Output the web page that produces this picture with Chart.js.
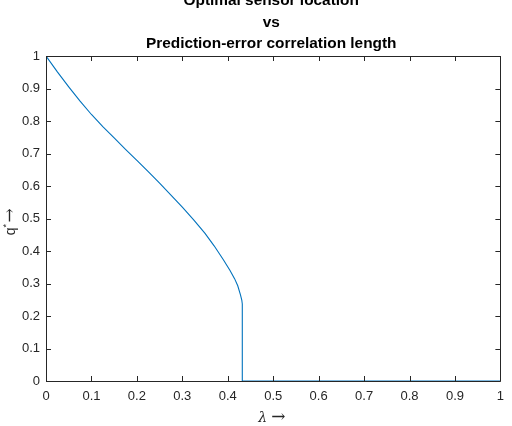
<!DOCTYPE html>
<html lang="en">
<head>
    <meta charset="UTF-8">
    <title>Optimal sensor location vs Prediction-error correlation length</title>
    <script src="https://cdn.jsdelivr.net/npm/chart.js@4.4.1/dist/chart.umd.min.js"></script>
    <style>
        html, body { margin: 0; padding: 0; background: #fff; }
        #wrap { width: 512px; height: 426px; position: relative; }
    </style>
</head>
<body>
    <div id="wrap"><canvas id="qChart"></canvas></div>

    <script>
        // curve
        const lambdaVals = [0, 0.025, 0.05, 0.075, 0.1, 0.125, 0.15, 0.175, 0.2, 0.225, 0.25, 0.275, 0.3, 0.325, 0.35, 0.37, 0.39, 0.405, 0.415, 0.422, 0.428, 0.431, 0.432, 0.432, 1];
        const qVals      = [1, 0.951, 0.905, 0.861, 0.82, 0.783, 0.748, 0.713, 0.679, 0.644, 0.609, 0.572, 0.535, 0.496, 0.454, 0.416, 0.374, 0.34, 0.315, 0.293, 0.265, 0.248, 0.237, 0, 0];

        const xTickLabels = ['0', '0.1', '0.2', '0.3', '0.4', '0.5', '0.6', '0.7', '0.8', '0.9', '1'];
        const yTickLabels = ['0', '0.1', '0.2', '0.3', '0.4', '0.5', '0.6', '0.7', '0.8', '0.9', '1'];
        const titleLines  = ['Optimal sensor location', 'vs', 'Prediction-error correlation length'];

        const axisColor = '#262626';
        const points = lambdaVals.map((x, i) => ({ x: x, y: qVals[i] }));

        // MATLAB style box, inward ticks, title and axis labels
        const matlabAxes = {
            id: 'matlabAxes',
            afterDraw(chart) {
                const ctx = chart.ctx;
                const a = chart.chartArea;
                const xs = chart.scales.x, ys = chart.scales.y;
                const tl = 5;
                ctx.save();
                ctx.strokeStyle = axisColor;
                ctx.lineWidth = 1;
                ctx.beginPath();
                ctx.rect(Math.round(a.left) + 0.5, Math.round(a.top) + 0.5,
                         Math.round(a.right - a.left), Math.round(a.bottom - a.top));
                ctx.stroke();
                ctx.beginPath();
                xTickLabels.forEach((_, i) => {
                    const px = Math.round(xs.getPixelForValue(i / 10)) + 0.5;
                    ctx.moveTo(px, a.bottom); ctx.lineTo(px, a.bottom - tl);
                    ctx.moveTo(px, a.top); ctx.lineTo(px, a.top + tl);
                });
                yTickLabels.forEach((_, i) => {
                    const py = Math.round(ys.getPixelForValue(i / 10)) + 0.5;
                    ctx.moveTo(a.left, py); ctx.lineTo(a.left + tl, py);
                    ctx.moveTo(a.right, py); ctx.lineTo(a.right - tl, py);
                });
                ctx.stroke();

                // title
                ctx.fillStyle = '#000';
                ctx.font = 'bold 15.4px "Liberation Sans", Arial, sans-serif';
                ctx.textAlign = 'center';
                ctx.textBaseline = 'alphabetic';
                const cx = (a.left + a.right) / 2 - 2;
                titleLines.forEach((t, i) => ctx.fillText(t, cx, 5 + i * 21.7));

                // x label
                ctx.fillStyle = axisColor;
                ctx.font = 'italic 14px "DejaVu Serif", serif';
                ctx.textAlign = 'right';
                ctx.fillText('\u03bb', cx - 4, 422);
                ctx.font = '17px "DejaVu Serif", serif';
                ctx.textAlign = 'left';
                ctx.fillText('\u2192', cx + 0, 422);

                // y label, rotated
                ctx.translate(15, (a.top + a.bottom) / 2 + 2);
                ctx.rotate(-Math.PI / 2);
                ctx.textAlign = 'right';
                ctx.font = '14px "Liberation Sans", Arial, sans-serif';
                ctx.fillText('q', -7, 0);
                ctx.font = '9px "Liberation Sans", Arial, sans-serif';
                ctx.textAlign = 'left';
                ctx.fillText('*', -7, -6);
                ctx.font = '17px "DejaVu Serif", serif';
                ctx.fillText('\u2192', -2, 0);
                ctx.restore();
            }
        };

        const tickFont = { family: '"Liberation Sans", Arial, sans-serif', size: 13 };

        new Chart(document.getElementById('qChart'), {
            type: 'scatter',
            data: {
                datasets: [{
                    data: points,
                    showLine: true,
                    borderColor: '#0072BD',
                    borderWidth: 1.1,
                    pointRadius: 0,
                    fill: false,
                    tension: 0
                }]
            },
            options: {
                responsive: true,
                maintainAspectRatio: false,
                animation: false,
                layout: { padding: { top: 56, right: 10, left: 0, bottom: 0 } },
                plugins: {
                    legend: { display: false },
                    tooltip: { enabled: false },
                    title: { display: false }
                },
                scales: {
                    x: {
                        type: 'linear',
                        min: 0,
                        max: 1,
                        grid: { display: false, drawTicks: false },
                        border: { display: false },
                        ticks: {
                            stepSize: 0.1,
                            padding: 8,
                            color: axisColor,
                            font: tickFont,
                            maxRotation: 0,
                            autoSkip: false,
                            callback: (v, i) => xTickLabels[i]
                        },
                        afterFit: s => { s.height = 45; }
                    },
                    y: {
                        type: 'linear',
                        min: 0,
                        max: 1,
                        grid: { display: false, drawTicks: false },
                        border: { display: false },
                        ticks: {
                            stepSize: 0.1,
                            padding: 6,
                            color: axisColor,
                            font: tickFont,
                            autoSkip: false,
                            callback: (v, i) => yTickLabels[i]
                        },
                        afterFit: s => { s.width = 46; }
                    }
                }
            },
            plugins: [matlabAxes]
        });
    </script>
</body>
</html>
